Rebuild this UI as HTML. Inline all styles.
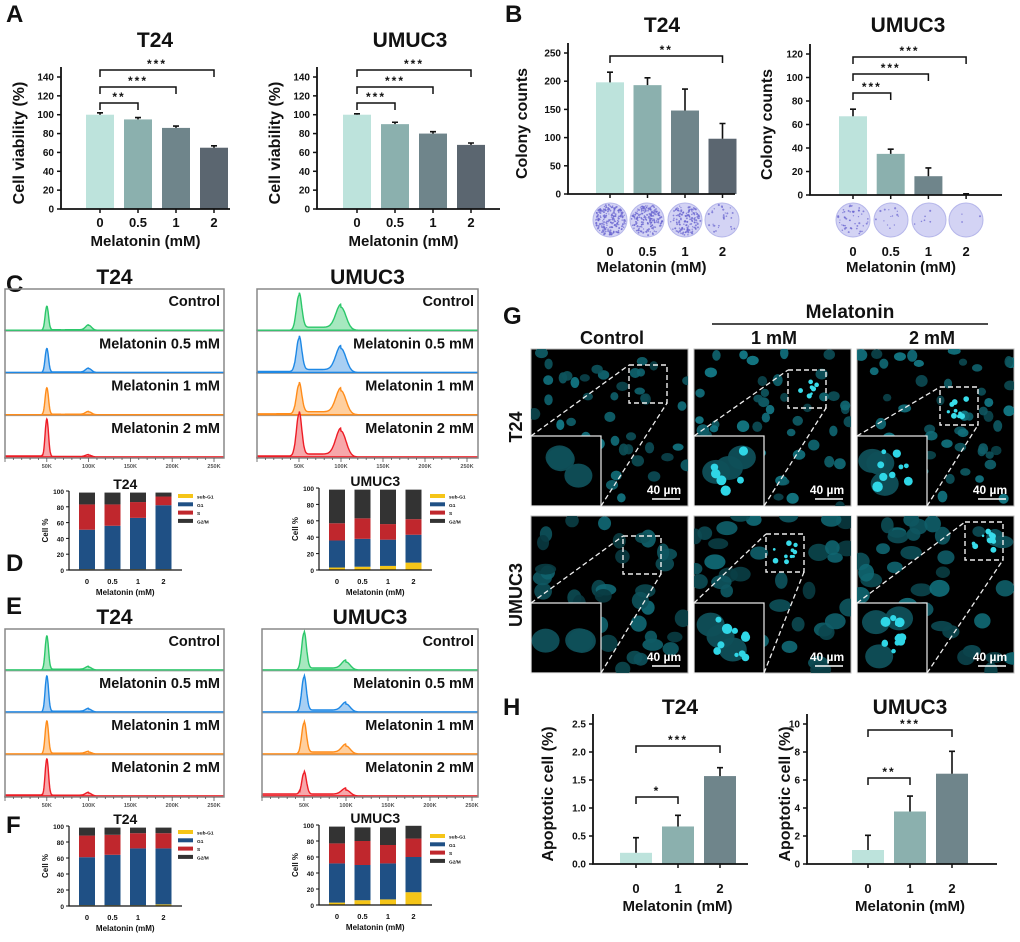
<!DOCTYPE html>
<html><head><meta charset="utf-8"><style>
html,body{margin:0;padding:0;background:#fff;}
svg text{font-family:"Liberation Sans",Arial,sans-serif;font-weight:bold;}
</style></head><body>
<svg id="fig" xmlns="http://www.w3.org/2000/svg" width="1020" height="937" viewBox="0 0 1020 937"></svg>
<script>
// ---------- data ----------
const doseCats4 = ["0","0.5","1","2"];
const doseCats3 = ["0","1","2"];
const aT24Vals = [100,95,86,65];
const aT24Errs = [2,2,2,2];
const aUmVals = [100,90,80,68];
const aUmErrs = [1,2,2,2];
const aTicks = [0,20,40,60,80,100,120,140];
const bT24Vals = [198,193,148,98];
const bT24Errs = [18,13,38,27];
const bT24Ticks = [0,50,100,150,200,250];
const bUmVals = [67,35,16,0];
const bUmErrs = [6,4,7,1];
const bUmTicks = [0,20,40,60,80,100,120];
const hT24Vals = [0.2,0.67,1.57];
const hT24Errs = [0.27,0.2,0.15];
const hT24Ticks = [0,0.5,1.0,1.5,2.0,2.5];
const hUmVals = [1.0,3.75,6.45];
const hUmErrs = [1.05,1.1,1.6];
const hUmTicks = [0,2,4,6,8,10];
const phases = ["sub-G1","G1","S","G2/M"];
const dT24 = {sub:[1,1,1,1], g1:[50,55,65,81], s:[32,27,20,11], g2:[15,15,12,5]};
const dUm  = {sub:[3,4,5,9], g1:[33,34,32,34], s:[21,25,19,19], g2:[41,35,42,36]};
const fT24 = {sub:[1,1,1,2], g1:[60,63,71,70], s:[27,25,19,19], g2:[10,9,7,7]};
const fUm  = {sub:[3,6,7,16], g1:[49,44,45,44], s:[25,30,23,23], g2:[21,17,22,16]};
const stackTicks = [0,20,40,60,80,100];
const histRows = ["Control","Melatonin 0.5 mM","Melatonin 1 mM","Melatonin 2 mM"];
const cT24G1 = [24,24,27,38], cT24G2 = [5,4,3,2];
const cUmG1 = [35,34,30,43], cUmG2 = [23,24,24,26];
const eT24G1 = [34,36,33,37], eT24G2 = [3,3,2,3];
const eUmG1 = [37,35,31,23], eUmG2 = [8,8,8,6];
const histTicks = ["50K","100K","150K","200K","250K"];

// ---------- helpers ----------
const S = document.getElementById('fig');
const NS = "http://www.w3.org/2000/svg";
function el(tag, attrs, parent, txt){
  const e = document.createElementNS(NS, tag);
  for (const k in attrs) e.setAttribute(k, attrs[k]);
  if (txt !== undefined) e.textContent = txt;
  (parent||S).appendChild(e);
  return e;
}
function txt(x,y,s,size,anchor,name,parent,extra){
  const t = el('text', Object.assign({x:x,y:y,'font-size':size,'text-anchor':anchor||'middle',fill:'#111'}, extra||{}), parent, s);
  
  
  return t;
}
const barCols = ["#bde3dc","#8bb0ae","#6f858b","#5b6670"];

function barChart(c){
  const g = el('g',{});
  
  
  const ys = v => c.y0 - (v - c.ticks[0])/(c.ticks[c.ticks.length-1]-c.ticks[0])*(c.y0-c.yTop);
  const xs = i => c.x0 + c.first + i*c.step;
  c.vals.forEach((v,i)=>{
    const b = el('rect',{x:xs(i)-c.bw/2,y:ys(v),width:c.bw,height:c.y0-ys(v),fill:barCols[i]},g);
    
    
    const e = c.errs[i];
    const ey = ys(v+e);
    const ln = el('path',{d:`M${xs(i)} ${ys(v)}V${ey}M${xs(i)-3} ${ey}H${xs(i)+3}`,stroke:'#111','stroke-width':1.6,fill:'none'},g);
    
    
  });
  el('path',{d:`M${c.x0} ${c.yTop-10}V${c.y0}H${c.xEnd}`,stroke:'#111','stroke-width':1.8,fill:'none'},g);
  c.ticks.forEach(t=>{
    el('line',{x1:c.x0-4,x2:c.x0,y1:ys(t),y2:ys(t),stroke:'#111','stroke-width':1.5},g);
    txt(c.x0-7,ys(t)+3.5,c.fmt?c.fmt(t):String(t),c.tickSize||10,'end','y-tick-label',g);
  });
  c.cats.forEach((k,i)=>{
    el('line',{x1:xs(i),x2:xs(i),y1:c.y0,y2:c.y0+4,stroke:'#111','stroke-width':1.5},g);
    txt(xs(i),c.xLabY,k,13,'middle','x-tick-label',g);
  });
  txt(c.x0+ (c.xEnd-c.x0)/2 + (c.xlabShift||0), c.xTitleY, 'Melatonin (mM)', 15,'middle','x-axis-title',g);
  txt(0,0,c.ylabel,16,'middle','y-axis-title',g,{transform:`translate(${c.yLabX},${(c.y0+c.yTop)/2}) rotate(-90)`});
  txt(c.titleX,c.titleY,c.title,21,'middle','chart-title',g);
  (c.brackets||[]).forEach(b=>{
    const x1=xs(b[0]), x2=xs(b[1]), y=b[2];
    const p = el('path',{d:`M${x1} ${y+7}V${y}H${x2}V${y+7}`,stroke:'#111','stroke-width':1.5,fill:'none'},g);
    
    
    txt((x1+x2)/2, y-2, b[3], 12,'middle','significance-stars',g,{'letter-spacing':'2'});
  });
  return g;
}

let seed = 7;
function rnd(){ seed = (seed*16807)%2147483647; return (seed-1)/2147483646; }

function plate(cx,cy,r,density,name){
  const g = el('g',{});
  
  
  el('circle',{cx:cx,cy:cy,r:r,fill:'#d3d3f4',stroke:'#b5b6ea','stroke-width':1},g);
  for(let k=0;k<density;k++){
    const a=rnd()*6.283, d=Math.sqrt(rnd())*(r-1.5);
    el('circle',{cx:cx+Math.cos(a)*d,cy:cy+Math.sin(a)*d,r:0.6+rnd()*0.5,fill:'#6662cf',opacity:0.7},g);
  }
}

function histPanel(c){
  const g = el('g',{});
  
  
  const rowH = (c.y1-c.y0)/4;
  const cols = [["#2bc76a","#a6e8bf"],["#1e88e5","#a8cff3"],["#ff8c1a","#ffcf9e"],["#ee1c25","#f7a7aa"]];
  const xv = v => c.x0 + v/250*c.scale;
  for(let r=0;r<4;r++){
    const base = c.y0 + rowH*(r+1) - 1;
    let d = `M${c.x0} ${base}`;
    for(let v=-15; v<=250; v+=0.5){
      const x = xv(v);
      if (x < c.x0 || x > c.x1) continue;
      const y = c.g1[r]*Math.exp(-Math.pow(v-50,2)/(2*c.s1*c.s1)) + c.g2[r]*Math.exp(-Math.pow(v-100,2)/(2*c.s2*c.s2))
        + (v>50 && v<100 ? c.sph : 0) + (v<45 && v>0 ? c.sub[r] : 0);
      d += `L${x.toFixed(1)} ${(base - y).toFixed(1)}`;
    }
    d += `L${c.x1} ${base}Z`;
    const p = el('path',{d:d,fill:cols[r][1],stroke:cols[r][0],'stroke-width':1.4},g);
    
    
    el('line',{x1:c.x0,x2:c.x1,y1:base,y2:base,stroke:cols[r][0],'stroke-width':1.5,opacity:0.6},g);
    if(r<3) el('line',{x1:c.x0,x2:c.x1,y1:c.y0+rowH*(r+1),y2:c.y0+rowH*(r+1),stroke:'#999','stroke-width':0.8},g);
    txt(c.x1-4, c.y0+rowH*r+17, histRows[r], 14.5,'end','row-label',g);
  }
  el('rect',{x:c.x0,y:c.y0,width:c.x1-c.x0,height:c.y1-c.y0,fill:'none',stroke:'#888','stroke-width':1.5},g);
  for(let v=0; v<=250; v+=10){
    const x = xv(v); if(x<c.x0) continue;
    el('line',{x1:x,x2:x,y1:c.y1,y2:c.y1+(v%50===0?4:2),stroke:'#555','stroke-width':0.8},g);
  }
  histTicks.forEach((t,i)=>txt(xv(50*(i+1)),c.y1+10,t,5.5,'middle','x-tick-label',g,{fill:'#555'}));
  txt((c.x0+c.x1)/2, c.y0-5, c.title, 21,'middle','chart-title',g);
}

const stCols = {sub:"#f5c518", g1:"#1f5085", s:"#c0272d", g2:"#333333"};
function stackChart(c){
  const g = el('g',{});
  
  
  const ys = v => c.y0 - v/100*(c.y0-c.yTop);
  const xs = i => c.x0 + 18 + i*25.5;
  for(let i=0;i<4;i++){
    let acc = 0;
    ["sub","g1","s","g2"].forEach(k=>{
      const v = c.d[k][i];
      const r = el('rect',{x:xs(i)-8,y:ys(acc+v),width:16,height:ys(acc)-ys(acc+v),fill:stCols[k]},g);
      
      
      acc += v;
    });
  }
  el('path',{d:`M${c.x0} ${c.yTop}V${c.y0}H${c.x0+113}`,stroke:'#111','stroke-width':1.2,fill:'none'},g);
  stackTicks.forEach(t=>{
    el('line',{x1:c.x0-3,x2:c.x0,y1:ys(t),y2:ys(t),stroke:'#111','stroke-width':1},g);
    txt(c.x0-5,ys(t)+3,String(t),6.5,'end','y-tick-label',g);
  });
  doseCats4.forEach((k,i)=>txt(xs(i),c.y0+14,k,7.5,'middle','x-tick-label',g));
  txt(xs(1.5),c.y0+25,'Melatonin  (mM)',8,'middle','x-axis-title',g);
  txt(0,0,'Cell %',8,'middle','y-axis-title',g,{transform:`translate(${c.x0-21},${(c.y0+c.yTop)/2}) rotate(-90)`});
  txt(xs(1.5),c.titleY,c.title,14,'middle','chart-title',g);
  const keys=["sub","g1","s","g2"];
  keys.forEach((k,j)=>{
    const lg = el('g',{},g);
    
    
    el('rect',{x:c.lx,y:c.ly+j*8.3,width:15,height:4,fill:stCols[k]},lg);
    txt(c.lx+19,c.ly+j*8.3+4.5,phases[j],4.8,'start','legend-label',lg);
  });
}

function scope(x,y,w,h,kind,box,name){
  const g = el('g',{});
  
  
  const cid = 'clip'+name;
  const cp = el('clipPath',{id:cid},g); el('rect',{x:x,y:y,width:w,height:h},cp);
  el('rect',{x:x,y:y,width:w,height:h,fill:'#000',stroke:'#bbb','stroke-width':1},g);
  const ng = el('g',{'clip-path':`url(#${cid})`},g);
  const n = kind==='t'?55:40;
  for(let k=0;k<n;k++){
    const rx = kind==='t'? 4+rnd()*2.5 : 6+rnd()*5, ry = kind==='t'? 3.5+rnd()*2.5 : 5+rnd()*4;
    const l = kind==='t' ? 16 + rnd()*16 : 14 + rnd()*14;
    el('ellipse',{cx:x+rnd()*w,cy:y+rnd()*h,rx:rx,ry:ry,fill:`hsl(187,75%,${l}%)`,opacity:0.9},ng);
  }
  for(let k=0;k<(box.apo||0);k++) el('circle',{cx:box.x+8+rnd()*22,cy:box.y+8+rnd()*22,r:1.2+rnd()*1.8,fill:'#38dcea'},ng);
  const ix=x, iy=y+h-70, iw=70;
  el('rect',{x:ix,y:iy,width:iw,height:iw,fill:'#000'},g);
  const ig = el('g',{'clip-path':`url(#${cid})`},g);
  for(let k=0;k<3;k++) el('ellipse',{cx:ix+14+rnd()*42,cy:iy+14+rnd()*42,rx:14,ry:12,fill:'#0f4f58',opacity:0.95},ig);
  for(let k=0;k<(box.apo||0);k++) el('circle',{cx:ix+20+rnd()*32,cy:iy+15+rnd()*42,r:2+rnd()*3.5,fill:'#2fd6e6'},ig);
  el('rect',{x:ix,y:iy,width:iw,height:iw,fill:'none',stroke:'#eee','stroke-width':1.2},g);
  const bx=box.x, by=box.y, bs=38;
  el('rect',{x:bx,y:by,width:bs,height:bs,fill:'none',stroke:'#eee','stroke-width':1.4,'stroke-dasharray':'5 3'},g);
  el('line',{x1:ix,y1:iy,x2:bx,y2:by,stroke:'#eee','stroke-width':1.3,'stroke-dasharray':'5 3'},g);
  el('line',{x1:ix+iw,y1:iy+iw,x2:bx+bs,y2:by+bs,stroke:'#eee','stroke-width':1.3,'stroke-dasharray':'5 3'},g);
  txt(x+w-24,y+h-12,'40 µm',12,'middle','scale-bar-label',g,{fill:'#fff'});
  el('line',{x1:x+w-36,x2:x+w-8,y1:y+h-7,y2:y+h-7,stroke:'#fff','stroke-width':1.5},g);
}

[["A",6,22],["B",505,22],["C",6,292],["D",6,571],["E",6,614],["F",6,833],["G",503,324],["H",503,715]].forEach(p=>{
  txt(p[1],p[2],p[0],24,'start','panel-label-'+p[0].toLowerCase());
});

barChart({name:'chart-a-t24',x0:61,y0:209,yTop:77,xEnd:230,first:39,step:38,bw:28,cats:doseCats4,vals:aT24Vals,errs:aT24Errs,ticks:aTicks,
  ylabel:'Cell viability (%)',yLabX:24,title:'T24',titleX:155,titleY:47,xLabY:227,xTitleY:246,xlabShift:0,
  brackets:[[0,1,103,'**'],[0,2,87,'***'],[0,3,70,'***']]});
barChart({name:'chart-a-umuc3',x0:317,y0:209,yTop:77,xEnd:500,first:40,step:38,bw:28,cats:doseCats4,vals:aUmVals,errs:aUmErrs,ticks:aTicks,
  ylabel:'Cell viability (%)',yLabX:280,title:'UMUC3',titleX:410,titleY:47,xLabY:227,xTitleY:246,xlabShift:-5,
  brackets:[[0,1,103,'***'],[0,2,87,'***'],[0,3,70,'***']]});
barChart({name:'chart-b-t24',x0:568,y0:194,yTop:53,xEnd:735,first:42,step:37.5,bw:28,cats:doseCats4,vals:bT24Vals,errs:bT24Errs,ticks:bT24Ticks,
  ylabel:'Colony counts',yLabX:527,title:'T24',titleX:662,titleY:32,xLabY:256,xTitleY:272,
  brackets:[[0,3,56,'**']]});
barChart({name:'chart-b-umuc3',x0:810,y0:195,yTop:54,xEnd:1002,first:43,step:37.7,bw:28,cats:doseCats4,vals:bUmVals,errs:bUmErrs,ticks:bUmTicks,
  ylabel:'Colony counts',yLabX:772,title:'UMUC3',titleX:908,titleY:32,xLabY:256,xTitleY:272,xlabShift:-5,
  brackets:[[0,1,93,'***'],[0,2,74,'***'],[0,3,57,'***']]});
[[610,220],[647,200],[685,150],[722,30]].forEach((p,i)=>plate(p[0],220,17,p[1],'plate-t24-'+i));
[[853,50],[891,14],[929,6],[966,3]].forEach((p,i)=>plate(p[0],220,17,p[1],'plate-umuc3-'+i));

histPanel({name:'hist-c-t24',x0:5,x1:224,y0:289,y1:458,scale:209,g1:cT24G1,g2:cT24G2,s1:2,s2:3.5,sph:0.5,sub:[0,0,0,1],title:'T24'});
histPanel({name:'hist-c-umuc3',x0:257,x1:478,y0:289,y1:458,scale:210,g1:cUmG1,g2:cUmG2,s1:3.2,s2:6,sph:3,sub:[0,1,1,1],title:'UMUC3'});
histPanel({name:'hist-e-t24',x0:5,x1:224,y0:629,y1:797,scale:209,g1:eT24G1,g2:eT24G2,s1:2,s2:3.5,sph:0.8,sub:[0,0,0,1],title:'T24'});
histPanel({name:'hist-e-umuc3',x0:262,x1:478,y0:629,y1:797,scale:210,g1:eUmG1,g2:eUmG2,s1:2.8,s2:5,sph:2,sub:[0,0,0,2],title:'UMUC3'});

stackChart({name:'stack-d-t24',x0:69,y0:570,yTop:491,d:dT24,title:'T24',titleY:489,lx:178,ly:494});
stackChart({name:'stack-d-umuc3',x0:319,y0:570,yTop:488,d:dUm,title:'UMUC3',titleY:486,lx:430,ly:494});
stackChart({name:'stack-f-t24',x0:69,y0:906,yTop:826,d:fT24,title:'T24',titleY:824,lx:178,ly:830});
stackChart({name:'stack-f-umuc3',x0:319,y0:905,yTop:825,d:fUm,title:'UMUC3',titleY:823,lx:430,ly:834});

txt(850,318,'Melatonin',19,'middle','melatonin-group-label');
el('line',{x1:712,x2:988,y1:324,y2:324,stroke:'#111','stroke-width':1.5});
txt(612,344,'Control',18,'middle','column-label-control');
txt(774,344,'1 mM',18,'middle','column-label-1mm');
txt(932,344,'2 mM',18,'middle','column-label-2mm');
txt(0,0,'T24',18,'middle','row-label-t24',null,{transform:'translate(522,427) rotate(-90)'});
txt(0,0,'UMUC3',18,'middle','row-label-umuc3',null,{transform:'translate(522,595) rotate(-90)'});
scope(531,349,157,157,'t',{x:629,y:365,apo:0},'micro-t24-control');
scope(694,349,157,157,'t',{x:788,y:370,apo:7},'micro-t24-1mm');
scope(857,349,157,157,'t',{x:940,y:387,apo:9},'micro-t24-2mm');
scope(531,516,157,157,'u',{x:623,y:536,apo:0},'micro-umuc3-control');
scope(694,516,157,157,'u',{x:766,y:534,apo:10},'micro-umuc3-1mm');
scope(857,516,157,157,'u',{x:965,y:522,apo:12},'micro-umuc3-2mm');

barChart({name:'chart-h-t24',x0:593,y0:864,yTop:724,xEnd:748,first:43,step:42,bw:32,cats:doseCats3,vals:hT24Vals,errs:hT24Errs,ticks:hT24Ticks,fmt:t=>t.toFixed(1),
  ylabel:'Apoptotic cell (%)',yLabX:553,title:'T24',titleX:680,titleY:714,xLabY:893,xTitleY:911,xlabShift:7,
  brackets:[[0,1,797,'*'],[0,2,746,'***']]});
barChart({name:'chart-h-umuc3',x0:807,y0:864,yTop:724,xEnd:997,first:61,step:42,bw:32,cats:doseCats3,vals:hUmVals,errs:hUmErrs,ticks:hUmTicks,
  ylabel:'Apoptotic cell (%)',yLabX:790,title:'UMUC3',titleX:910,titleY:714,xLabY:893,xTitleY:911,xlabShift:8,
  brackets:[[0,1,778,'**'],[0,2,730,'***']]});
</script>
</body></html>
